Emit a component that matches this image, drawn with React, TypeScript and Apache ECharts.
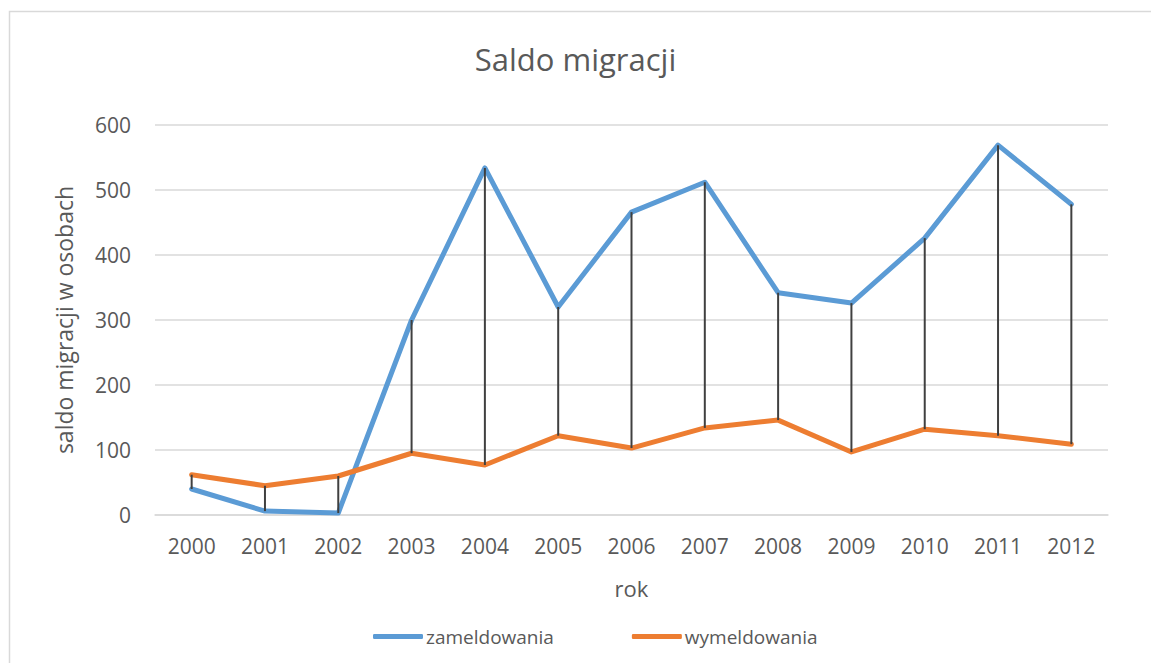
import React, { useEffect, useRef } from "react";
import * as echarts from "echarts";

const years = ["2000", "2001", "2002", "2003", "2004", "2005", "2006", "2007", "2008", "2009", "2010", "2011", "2012"];
const zameldowania = [40, 6, 3, 300, 534, 320, 466, 512, 342, 326, 426, 569, 478];
const wymeldowania = [62, 45, 60, 95, 77, 122, 103, 134, 146, 97, 132, 122, 109];

const FONT = "'Open Sans', 'Noto Sans', sans-serif";
const TXT = "#595959";

export default function App() {
  const ref = useRef<HTMLDivElement>(null);
  useEffect(() => {
    const chart = echarts.init(ref.current!, null, { renderer: "svg" });
    const hiLow = years.map((_, i) => [i, zameldowania[i], wymeldowania[i]]);
    chart.setOption({
      animation: false,
      backgroundColor: "#ffffff",
      textStyle: { fontFamily: FONT },
      title: {
        text: "Saldo migracji",
        left: "center",
        top: 38,
        textStyle: { fontFamily: FONT, fontSize: 31, fontWeight: "normal", color: TXT },
      },
      graphic: [
        {
          type: "rect",
          shape: { x: 9.5, y: 11.5, width: 1160, height: 700 },
          style: { fill: "none", stroke: "#d9d9d9", lineWidth: 1.5 },
          silent: true,
        },
      ],
      legend: {
        bottom: 12,
        left: 368,
        itemGap: 78,
        itemWidth: 50,
        itemHeight: 5,
        icon: "roundRect",
        textStyle: { fontFamily: FONT, fontSize: 19, color: TXT, padding: [0, 0, 0, -2] },
        data: ["zameldowania", "wymeldowania"],
      },
      grid: { left: 155, right: 43, top: 125, bottom: 148 },
      xAxis: {
        type: "category",
        data: years,
        boundaryGap: true,
        name: "rok",
        nameLocation: "middle",
        nameGap: 62,
        nameTextStyle: { fontFamily: FONT, fontSize: 22, color: TXT },
        axisLine: { show: true, lineStyle: { color: "#d9d9d9", width: 1.5 } },
        axisTick: { show: false },
        axisLabel: { fontFamily: FONT, fontSize: 21, color: TXT, margin: 20 },
      },
      yAxis: {
        type: "value",
        min: 0,
        max: 600,
        interval: 100,
        name: "saldo migracji w osobach",
        nameLocation: "middle",
        nameGap: 80,
        nameTextStyle: { fontFamily: FONT, fontSize: 23, color: TXT },
        axisLine: { show: false },
        axisTick: { show: false },
        splitLine: { lineStyle: { color: "#d9d9d9", width: 1.5 } },
        axisLabel: { fontFamily: FONT, fontSize: 21, color: TXT, margin: 24 },
      },
      series: [
        {
          name: "zameldowania",
          type: "line",
          data: zameldowania,
          symbol: "none",
          itemStyle: { color: "#5B9BD5" },
          lineStyle: { color: "#5B9BD5", width: 5, cap: "round", join: "round" },
          z: 2,
        },
        {
          name: "wymeldowania",
          type: "line",
          data: wymeldowania,
          symbol: "none",
          itemStyle: { color: "#ED7D31" },
          lineStyle: { color: "#ED7D31", width: 5, cap: "round", join: "round" },
          z: 3,
        },
        {
          name: "hilow",
          type: "custom",
          data: hiLow,
          z: 4,
          silent: true,
          renderItem: (params: any, api: any) => {
            const p1 = api.coord([api.value(0), api.value(1)]);
            const p2 = api.coord([api.value(0), api.value(2)]);
            return {
              type: "line",
              shape: { x1: p1[0], y1: p1[1], x2: p2[0], y2: p2[1] },
              style: { stroke: "#404040", lineWidth: 2 },
            };
          },
        },
      ],
    });
    return () => chart.dispose();
  }, []);
  return (
    <div
      ref={ref}
      style={{ position: "fixed", left: 0, top: 0, width: 1151, height: 663 }}
    />
  );
}
